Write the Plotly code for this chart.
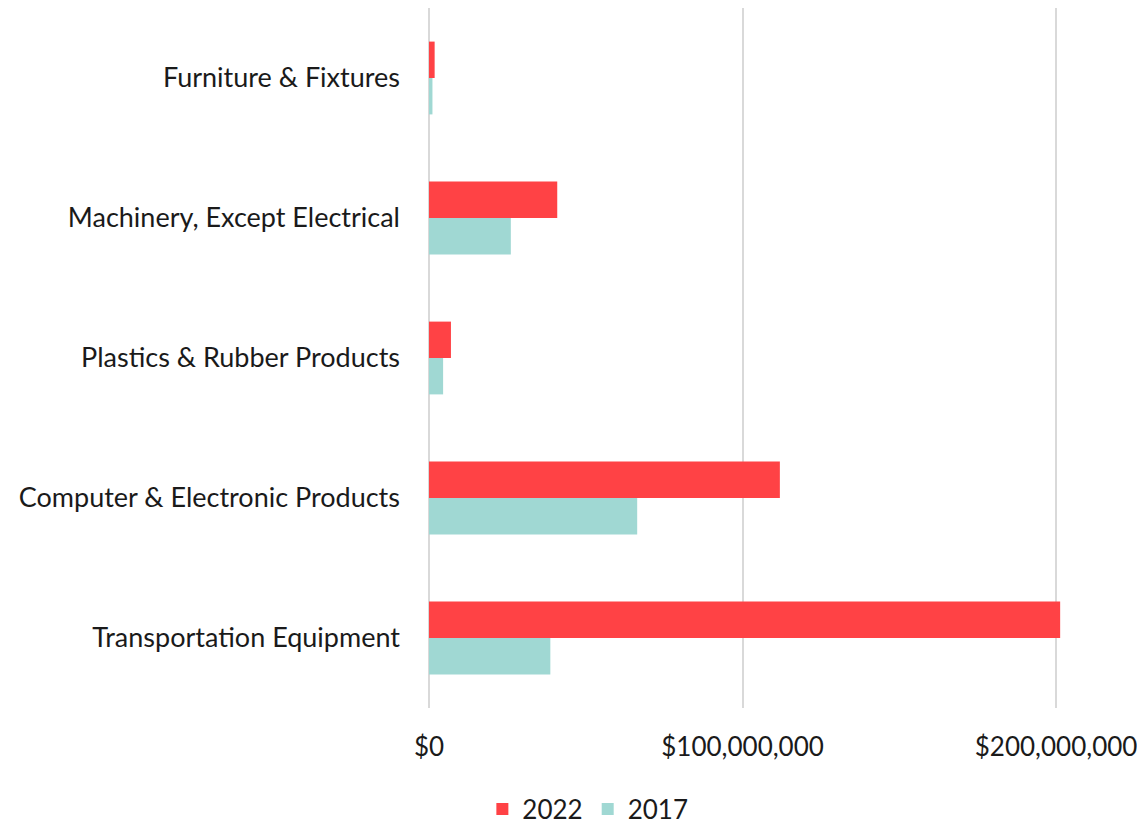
import plotly.graph_objects as go

categories = ["Furniture & Fixtures", "Machinery, Except Electrical", "Plastics & Rubber Products",
              "Computer & Electronic Products", "Transportation Equipment"]
values_2022 = [1.8e6, 40.9e6, 7.0e6, 111.9e6, 201.3e6]
values_2017 = [1.1e6, 26.1e6, 4.5e6, 66.4e6, 38.7e6]
tick_vals = [0, 100e6, 200e6]
tick_text = ["$0", "$100,000,000", "$200,000,000"]

font_family = "Lato, 'Noto Sans', sans-serif"

fig = go.Figure()
fig.add_trace(go.Bar(y=categories, x=values_2022, name="2022", orientation="h",
                     marker=dict(color="#FF4245", line=dict(width=0))))
fig.add_trace(go.Bar(y=categories, x=values_2017, name="2017", orientation="h",
                     marker=dict(color="#A0D8D3", line=dict(width=0))))

fig.update_layout(
    width=1137, height=831,
    margin=dict(l=421, r=40, t=0, b=131, autoexpand=False),
    paper_bgcolor="white", plot_bgcolor="white",
    barmode="group", bargap=0.48, bargroupgap=0,
    font=dict(family=font_family, size=27, color="#1a1a1a"),
    showlegend=True,
    legend=dict(orientation="h", xref="container", x=0.51, xanchor="center",
                yref="container", y=0.036, yanchor="middle",
                font=dict(size=26), traceorder="normal", itemwidth=30),
    xaxis=dict(range=[0, 2.156e8], tickvals=tick_vals, ticktext=tick_text,
               showgrid=True, gridcolor="#d9d9d9", gridwidth=1.5,
               zeroline=True, zerolinecolor="#d9d9d9", zerolinewidth=1.5,
               showline=False, ticks="", ticklabelstandoff=21,
               tickfont=dict(size=26), automargin=False),
    yaxis=dict(categoryorder="array", categoryarray=categories, autorange="reversed",
               showgrid=False, zeroline=False, showline=False, ticks="",
               ticklabelstandoff=28, tickfont=dict(size=27), automargin=False),
)

fig.write_html("out.html")
